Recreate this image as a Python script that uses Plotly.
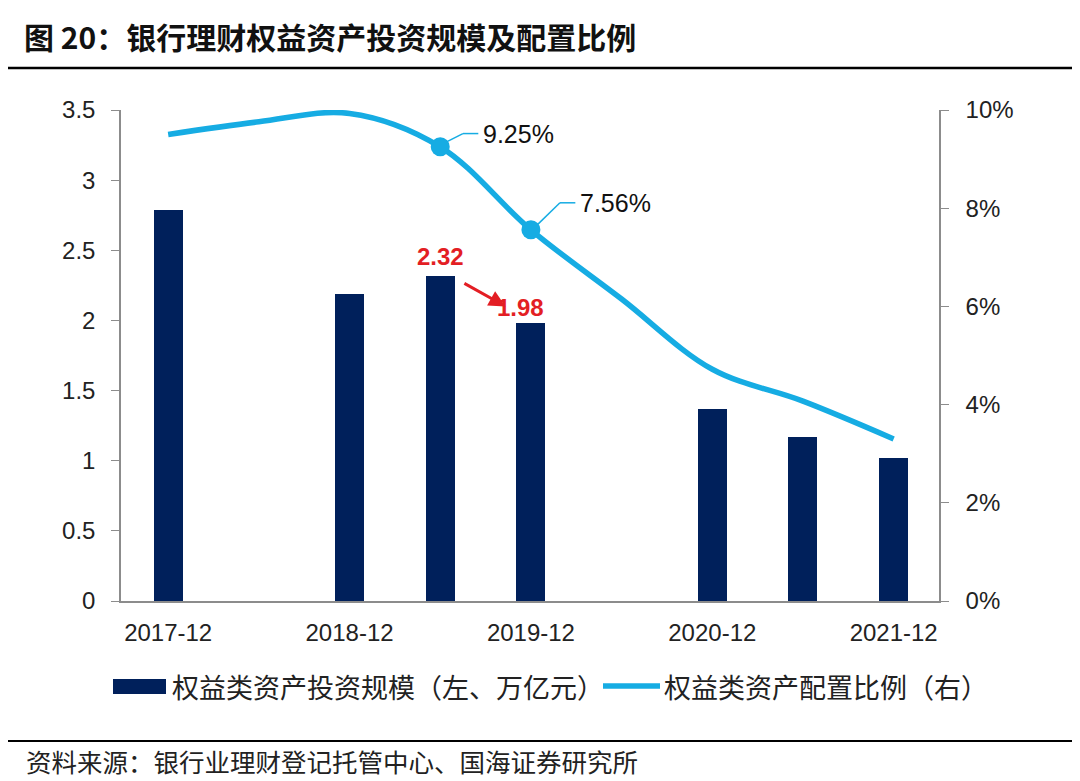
import plotly.graph_objects as go

categories = ["2017-12", "2018-06", "2018-12", "2019-06", "2019-12",
              "2020-06", "2020-12", "2021-06", "2021-12"]
scale_values = [2.79, None, 2.19, 2.32, 1.98, None, 1.37, 1.17, 1.02]
ratio_values = [9.50, 9.76, 9.93, 9.25, 7.56, 6.15, 4.72, 4.07, 3.30]
tick_labels = ["2017-12", "2018-12", "2019-12", "2020-12", "2021-12"]
marked_idx = [3, 4]
marked_labels = ["9.25%", "7.56%"]
bar_label_idx = [3, 4]
bar_labels = ["2.32", "1.98"]

title_text = "<b>图 20：银行理财权益资产投资规模及配置比例</b>"
legend_bar = "权益类资产投资规模（左、万亿元）"
legend_line = "权益类资产配置比例（右）"
source_text = "资料来源：银行业理财登记托管中心、国海证券研究所"

NAVY = "#00205B"
BLUE = "#16ACE3"
RED = "#E31E24"
GRAY = "#8C8C8C"
LAT = "Liberation Sans, Arial, sans-serif"
CJK = "Noto Sans CJK SC, sans-serif"

# page body has an 8px margin; work in screen pixels and shift
OFF = 8
SW, SH = 1080, 781
W, H = SW - OFF, SH - OFF
PL, PR, PT, PB = 121, 939, 110, 601  # plot area in screen pixels
L, R, T, B = PL - OFF, W - (PR - OFF), PT - OFF, H - (PB - OFF)

def px(xs):
    return (xs - PL) / (PR - PL)

def py(ys):
    return (PB - ys) / (PB - PT)

x = list(range(len(categories)))
bx = [i for i, v in zip(x, scale_values) if v is not None]
bv = [v for v in scale_values if v is not None]

fig = go.Figure()
fig.add_trace(go.Bar(x=bx, y=bv, width=0.32, marker=dict(color=NAVY, line=dict(width=0)),
                     yaxis="y", showlegend=False))
fig.add_trace(go.Scatter(x=x, y=ratio_values, yaxis="y2", mode="lines",
                         line=dict(color=BLUE, width=5.5, shape="spline", smoothing=1.0),
                         showlegend=False))
fig.add_trace(go.Scatter(x=[x[i] for i in marked_idx], y=[ratio_values[i] for i in marked_idx],
                         yaxis="y2", mode="markers",
                         marker=dict(color=BLUE, size=19, line=dict(width=0)),
                         showlegend=False))

ann = []
shapes = []
offsets = [(0.25, 0.27), (0.32, 0.55)]
for k, i in enumerate(marked_idx):
    xv, yv = x[i], ratio_values[i]
    dx, dy = offsets[k]
    shapes.append(dict(type="line", xref="x", yref="y2", x0=xv + 0.07, y0=yv + 0.1,
                       x1=xv + dx, y1=yv + dy, line=dict(color=BLUE, width=1.5)))
    shapes.append(dict(type="line", xref="x", yref="y2", x0=xv + dx, y0=yv + dy,
                       x1=xv + dx + 0.17, y1=yv + dy, line=dict(color=BLUE, width=1.5)))
    ann.append(dict(x=xv + dx + 0.2, y=yv + dy, xref="x", yref="y2", text=marked_labels[k],
                    showarrow=False, xanchor="left", yanchor="middle",
                    font=dict(family=LAT, size=25, color="#111111")))
ann.append(dict(x=x[bar_label_idx[0]], y=scale_values[bar_label_idx[0]], xref="x", yref="y",
                text="<b>%s</b>" % bar_labels[0], showarrow=False, yanchor="bottom", yshift=4,
                font=dict(family=LAT, size=24, color=RED)))
ann.append(dict(x=x[bar_label_idx[1]] - 0.12, y=scale_values[bar_label_idx[1]], xref="x", yref="y",
                text="<b>%s</b>" % bar_labels[1], showarrow=False, yanchor="bottom", yshift=0,
                font=dict(family=LAT, size=24, color=RED)))
ann.append(dict(x=x[bar_label_idx[1]] - 0.28, y=scale_values[bar_label_idx[1]] + 0.12,
                ax=x[bar_label_idx[0]] + 0.25, ay=scale_values[bar_label_idx[0]] - 0.05,
                xref="x", yref="y", axref="x", ayref="y", text="", showarrow=True,
                arrowhead=2, arrowsize=1.1, arrowwidth=3, arrowcolor=RED))

ann.append(dict(x=px(22), y=py(36), xref="paper", yref="paper", text=title_text, showarrow=False,
                xanchor="left", yanchor="middle", font=dict(family=CJK, size=30, color="#111111")))
ann.append(dict(x=px(24), y=py(760), xref="paper", yref="paper", text=source_text, showarrow=False,
                xanchor="left", yanchor="middle", font=dict(family=CJK, size=25.5, color="#222222")))
ann.append(dict(x=px(170), y=py(686), xref="paper", yref="paper", text=legend_bar, showarrow=False,
                xanchor="left", yanchor="middle", font=dict(family=CJK, size=27, color="#222222")))
ann.append(dict(x=px(662), y=py(686), xref="paper", yref="paper", text=legend_line, showarrow=False,
                xanchor="left", yanchor="middle", font=dict(family=CJK, size=27, color="#222222")))

shapes.append(dict(type="line", xref="paper", yref="paper", x0=px(8), x1=px(1072), y0=py(68), y1=py(68),
                   line=dict(color="#000000", width=2.5)))
shapes.append(dict(type="line", xref="paper", yref="paper", x0=px(8), x1=px(1072), y0=py(741), y1=py(741),
                   line=dict(color="#000000", width=2)))
shapes.append(dict(type="rect", xref="paper", yref="paper", x0=px(113), x1=px(166), y0=py(679), y1=py(694),
                   fillcolor=NAVY, line=dict(width=0)))
shapes.append(dict(type="line", xref="paper", yref="paper", x0=px(603), x1=px(660), y0=py(686), y1=py(686),
                   line=dict(color=BLUE, width=5.5)))

fig.update_layout(
    width=W, height=H,
    margin=dict(l=L, r=R, t=T, b=B, pad=0),
    paper_bgcolor="white", plot_bgcolor="white",
    bargap=0,
    xaxis=dict(range=[-0.52, 8.5], tickmode="array", tickvals=[0, 2, 4, 6, 8], ticktext=tick_labels,
               showline=True, linecolor=GRAY, linewidth=1.5, ticks="", showgrid=False, zeroline=False,
               tickfont=dict(family=LAT, size=24, color="#222222"), ticklabelstandoff=9),
    yaxis=dict(range=[0, 3.5], dtick=0.5, showline=True, linecolor=GRAY, linewidth=1.5,
               ticks="outside", ticklen=8, tickcolor=GRAY, showgrid=False, zeroline=False,
               tickfont=dict(family=LAT, size=24, color="#222222"), ticklabelstandoff=11),
    yaxis2=dict(range=[0, 10], dtick=2, ticksuffix="%", overlaying="y", side="right",
                showline=True, linecolor=GRAY, linewidth=1.5, ticks="outside", ticklen=8,
                tickcolor=GRAY, showgrid=False, zeroline=False,
                tickfont=dict(family=LAT, size=24, color="#222222"), ticklabelstandoff=12),
    annotations=ann, shapes=shapes, showlegend=False,
)

fig.write_html("out.html")
